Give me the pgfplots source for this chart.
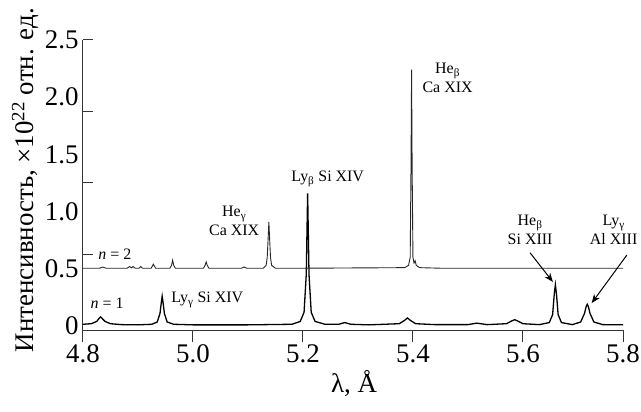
\documentclass[border=0pt]{standalone}
\usepackage{fontspec}
\setmainfont{Liberation Serif}
\usepackage{pgfplots}
\usepackage{pgfplotstable}
\pgfplotsset{compat=1.18}
\usetikzlibrary{arrows.meta}

\pgfplotstableread{
x y
4.800 0.015
4.815 0.02
4.825 0.04
4.829 0.065
4.832 0.08
4.835 0.065
4.840 0.04
4.850 0.02
4.870 0.012
4.900 0.01
4.925 0.015
4.935 0.035
4.940 0.11
4.942 0.19
4.944 0.26
4.946 0.19
4.948 0.11
4.953 0.035
4.965 0.015
5.000 0.01
5.100 0.01
5.180 0.015
5.195 0.04
5.202 0.12
5.206 0.45
5.2085 1.16
5.211 0.45
5.215 0.12
5.222 0.04
5.240 0.015
5.265 0.015
5.276 0.03
5.287 0.015
5.320 0.01
5.375 0.02
5.385 0.05
5.390 0.07
5.395 0.05
5.405 0.02
5.440 0.012
5.500 0.012
5.516 0.025
5.535 0.012
5.570 0.02
5.580 0.045
5.585 0.055
5.590 0.045
5.600 0.02
5.630 0.012
5.648 0.03
5.654 0.10
5.657 0.28
5.659 0.36
5.661 0.28
5.664 0.10
5.670 0.03
5.690 0.012
5.705 0.035
5.712 0.11
5.715 0.17
5.717 0.19
5.719 0.17
5.722 0.11
5.729 0.035
5.745 0.012
5.782 0.01
}\nfirst

\pgfplotstableread{
x y
4.800 0.505
4.830 0.505
4.836 0.515
4.842 0.505
4.880 0.505
4.885 0.52
4.888 0.508
4.891 0.52
4.895 0.505
4.902 0.505
4.905 0.52
4.908 0.505
4.924 0.505
4.928 0.54
4.932 0.505
4.958 0.505
4.961 0.53
4.963 0.575
4.965 0.53
4.968 0.505
5.019 0.505
5.022 0.53
5.024 0.56
5.026 0.53
5.029 0.505
5.088 0.505
5.093 0.515
5.098 0.505
5.128 0.505
5.133 0.53
5.135 0.6
5.137 0.8
5.138 0.91
5.139 0.8
5.141 0.6
5.143 0.53
5.150 0.505
5.200 0.505
5.385 0.51
5.392 0.53
5.395 0.6
5.3965 1.4
5.3975 2.24
5.3985 1.4
5.400 0.6
5.402 0.55
5.404 0.57
5.406 0.53
5.412 0.51
5.450 0.505
5.782 0.505
}\nsecond

\begin{document}
\begin{tikzpicture}
\useasboundingbox (-83bp,-82bp) rectangle (558bp,330bp);
\begin{axis}[
  at={(0,0)}, anchor=south west,
  scale only axis, width=540bp, height=290bp,
  xmin=4.8, xmax=5.782, ymin=-0.035, ymax=2.5,
  clip=false,
  axis x line=bottom, axis y line=left,
  axis line style={-, line width=1bp, black!80},
  tick align=outside, major tick length=12bp,
  every tick/.style={line width=1bp, black!80},
  xtick={4.8,5.0,5.2,5.4,5.6,5.782},
  xticklabels={4.8,5.0,5.2,5.4,5.6,5.8},
  ytick={0,0.5,1,1.5,2,2.5},
  yticklabels={0,0.5,1.0,1.5,2.0,2.5},
  y tick style={draw=none},
  extra y ticks={0.625,1.25,1.875,2.5},
  extra y tick labels={},
  extra y tick style={tick align=inside, major tick length=10bp, y tick style={draw=black!80, line width=1bp}},
  /pgf/number format/assume math mode=true,
  tick label style={font=\fontsize{27}{27}\selectfont},
  yticklabel style={xshift=11bp},
  xticklabel style={yshift=1bp},
  xlabel={λ, Å},
  ylabel={Интенсивность, ×10\textsuperscript{22} отн. ед.},
  label style={font=\fontsize{27}{30}\selectfont},
  xlabel style={at={(axis description cs:0.502,-0.186)}, anchor=center},
  ylabel style={at={(axis description cs:-0.107,0.517)}, anchor=center},
]
\addplot[black, line width=1.3bp] table[x=x,y=y]{\nfirst};
\addplot[black!85, line width=0.9bp] table[x=x,y=y]{\nsecond};

\begin{scope}[font=\fontsize{16}{19}\selectfont]
\node[align=center] at (axis cs:5.075,0.92) {He\textsubscript{γ}\\Ca XIX};
\node at (axis cs:5.245,1.285) {Ly\textsubscript{β} Si XIV};
\node[align=center] at (axis cs:5.463,2.17) {He\textsubscript{β}\\Ca XIX};
\node[align=center] at (axis cs:5.613,0.84) {He\textsubscript{β}\\Si XIII};
\node[align=center] at (axis cs:5.765,0.84) {Ly\textsubscript{γ}\\Al XIII};
\node at (axis cs:5.026,0.227) {Ly\textsubscript{γ} Si XIV};
\node at (axis cs:4.844,0.2) {\textit{n} = 1};
\node at (axis cs:4.858,0.63) {\textit{n} = 2};
\end{scope}
\draw[line width=1bp, -{Stealth[length=9bp,width=7bp]}] (axis cs:5.613,0.64) -- (axis cs:5.6545,0.385);
\draw[line width=1bp, -{Stealth[length=9bp,width=7bp]}] (axis cs:5.789,0.62) -- (axis cs:5.725,0.20);
\end{axis}
\end{tikzpicture}
\end{document}
